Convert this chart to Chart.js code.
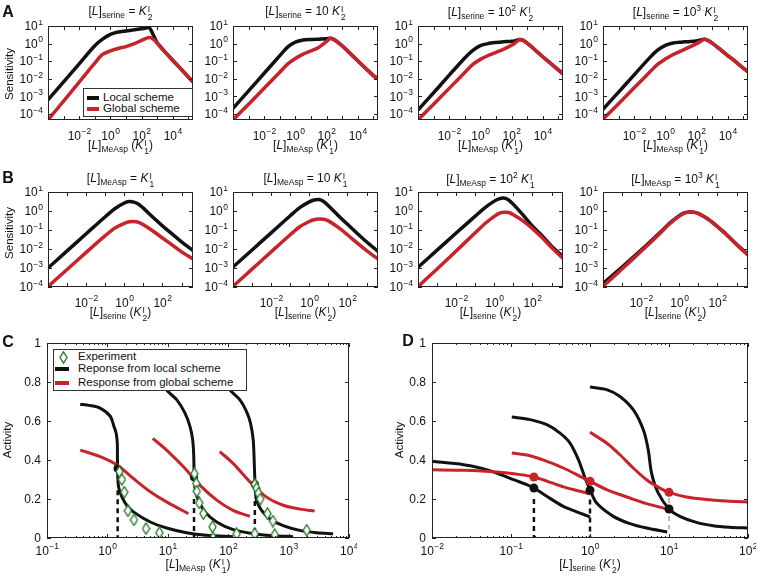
<!DOCTYPE html>
<html>
<head>
<meta charset="utf-8">
<script src="https://cdn.jsdelivr.net/npm/chart.js@4.4.1/dist/chart.umd.min.js"></script>
<style>
body{margin:0;background:#fff;}
#fig{position:relative;width:759px;height:578px;font-family:"Liberation Sans",Arial,sans-serif;color:#111;overflow:hidden;}
canvas{position:absolute;}
.t{position:absolute;white-space:nowrap;font-size:12px;line-height:1;transform:translate(-50%,-50%);}
.t sub{font-size:8.5px;vertical-align:-3px;}
.t sup{font-size:8.5px;vertical-align:5px;}
.st{display:inline-block;vertical-align:-5px;font-size:8.5px;line-height:8px;margin-left:1px;text-align:left;}
.st span{display:block;}
.box{position:absolute;background:#fff;border:1px solid #333;box-sizing:border-box;}
.sw{position:absolute;height:4px;}
.lt{position:absolute;white-space:nowrap;font-size:11.5px;line-height:1;transform:translateY(-50%);}
.L{position:absolute;font-weight:bold;font-size:16px;line-height:1;transform:translate(-50%,-50%);}
</style>
</head>
<body>
<div id="fig"></div>
<script>
// ---- data (log10 values for sensitivity axes and all x values) ----
// Row A: sensitivity vs [L]MeAsp
var aLogX = [-4,-3,-2,-1,-0.5,0,0.5,1,1.5,2,2.25,2.5,2.75,3,3.5,4,4.5,5,5.3];
var a1Local  = [-3.21,-2.18,-1.15,-0.12,0.25,0.52,0.66,0.72,0.78,0.84,0.88,0.9,0.5,0.05,-0.47,-0.95,-1.42,-1.9,-2.17];
var a1Global = [-4.35,-3.27,-2.19,-1.11,-0.62,-0.42,-0.28,-0.17,-0.02,0.18,0.28,0.34,0.25,0.03,-0.47,-0.95,-1.42,-1.9,-2.17];
var a2Local  = [-3.69,-2.69,-1.69,-0.69,-0.2,0.08,0.2,0.23,0.25,0.27,0.3,0.22,0.05,-0.12,-0.55,-0.98,-1.4,-1.82,-2.0];
var a2Global = [-4.35,-3.45,-2.54,-1.63,-1.17,-0.85,-0.6,-0.42,-0.22,0.12,0.3,0.22,0.05,-0.12,-0.55,-0.98,-1.4,-1.82,-2.0];
var a3Local  = [-3.78,-2.8,-1.8,-0.82,-0.4,-0.12,0.0,0.06,0.1,0.13,0.17,0.23,0.18,0.02,-0.35,-0.75,-1.12,-1.5,-1.73];
var a3Global = [-4.35,-3.45,-2.55,-1.65,-1.2,-0.9,-0.68,-0.5,-0.32,-0.1,0.05,0.22,0.18,0.02,-0.35,-0.75,-1.12,-1.5,-1.73];
var a4Local  = [-3.74,-2.76,-1.78,-0.8,-0.38,-0.1,0.03,0.08,0.11,0.15,0.2,0.24,0.17,0.03,-0.32,-0.68,-1.03,-1.4,-1.6];
var a4Global = [-4.31,-3.42,-2.52,-1.62,-1.18,-0.88,-0.62,-0.42,-0.22,0.0,0.12,0.24,0.17,0.03,-0.32,-0.68,-1.03,-1.4,-1.6];

// Row B: sensitivity vs [L]serine
var bLogX = [-4,-3,-2,-1,-0.5,0,0.25,0.5,0.75,1,1.5,2,2.5,3,3.6];
var b1Local  = [-3.0,-2.1,-1.2,-0.3,0.12,0.42,0.5,0.47,0.36,0.15,-0.33,-0.78,-1.2,-1.62,-2.08];
var b1Global = [-3.98,-3.08,-2.18,-1.3,-0.9,-0.65,-0.57,-0.55,-0.6,-0.72,-1.05,-1.42,-1.78,-2.15,-2.52];
var b2Local  = [-2.95,-2.05,-1.15,-0.25,0.18,0.48,0.58,0.6,0.5,0.28,-0.22,-0.7,-1.17,-1.62,-2.12];
var b2Global = [-3.96,-3.06,-2.15,-1.25,-0.83,-0.55,-0.46,-0.42,-0.43,-0.52,-0.85,-1.25,-1.68,-2.08,-2.53];
var b3Local  = [-2.96,-2.06,-1.16,-0.27,0.17,0.52,0.64,0.68,0.58,0.35,-0.2,-0.8,-1.3,-1.85,-2.39];
var b3Global = [-3.98,-3.05,-2.1,-1.15,-0.67,-0.28,-0.12,-0.07,-0.08,-0.2,-0.52,-0.93,-1.4,-1.92,-2.5];
var b4Local  = [-3.82,-2.95,-2.06,-1.12,-0.63,-0.24,-0.1,-0.05,-0.06,-0.13,-0.42,-0.82,-1.26,-1.75,-2.3];
var b4Global = [-3.96,-3.05,-2.12,-1.17,-0.67,-0.27,-0.12,-0.06,-0.07,-0.14,-0.43,-0.83,-1.27,-1.76,-2.32];

// Panel C: activity vs log10 [L]MeAsp
var cLocal1X = [-0.45,-0.3,-0.12,0.05,0.11,0.145,0.163,0.167,0.17,0.185,0.24,0.32,0.43,0.71,0.98,1.31,1.64,2.08];
var cLocal1Y = [0.686,0.68,0.666,0.623,0.571,0.537,0.49,0.4,0.33,0.262,0.211,0.168,0.134,0.082,0.051,0.027,0.014,0.007];
var cLocal2X = [0.82,0.9,0.98,1.15,1.285,1.368,1.412,1.428,1.434,1.44,1.456,1.505,1.616,1.808,2.084,2.414,2.744,3.075];
var cLocal2Y = [0.87,0.82,0.76,0.708,0.64,0.571,0.503,0.434,0.35,0.3,0.245,0.194,0.134,0.082,0.043,0.022,0.012,0.007];
var cLocal3X = [1.85,1.95,2.03,2.194,2.304,2.37,2.414,2.43,2.441,2.45,2.469,2.552,2.689,2.91,3.185,3.46,3.736];
var cLocal3Y = [0.88,0.82,0.76,0.708,0.648,0.588,0.503,0.4,0.3,0.24,0.194,0.142,0.099,0.063,0.039,0.027,0.022];
var cGlobal1X = [-0.45,-0.12,0.16,0.43,0.71,0.98,1.34];
var cGlobal1Y = [0.451,0.417,0.374,0.305,0.237,0.185,0.125];
var cGlobal2X = [0.75,0.98,1.26,1.53,1.81,2.08,2.36];
var cGlobal2Y = [0.511,0.451,0.365,0.271,0.194,0.142,0.111];
var cGlobal3X = [1.86,2.08,2.36,2.63,2.91,3.19,3.43];
var cGlobal3Y = [0.443,0.383,0.288,0.211,0.168,0.148,0.139];
var cExpX = [0.2,0.24,0.28,0.34,0.44,0.64,0.86,1.44,1.47,1.48,1.52,1.59,1.74,1.75,2.14,2.44,2.47,2.5,2.53,2.65,2.74,2.77,2.44,3.3];
var cExpY = [0.34,0.3,0.235,0.14,0.093,0.048,0.027,0.33,0.28,0.24,0.18,0.125,0.057,0.0,0.022,0.275,0.255,0.23,0.2,0.125,0.087,0.017,0.022,0.04];
var cDotX = [0.167,1.434,2.441];
var cDotY = [0.357,0.312,0.276];
var cDropX = [0.17,1.434,2.441];
var cDropTop = [0.245,0.2,0.19];

// Panel D: activity vs log10 [L]serine
var dLocal1X = [-2,-1.6,-1.39,-1.18,-0.97,-0.8,-0.71,-0.547,-0.337,-0.126,0];
var dLocal1Y = [0.393,0.376,0.359,0.333,0.299,0.274,0.256,0.214,0.162,0.128,0.108];
var dLocal2X = [-0.99,-0.758,-0.547,-0.379,-0.253,-0.147,-0.063,0,0.084,0.295,0.505,0.716,0.977];
var dLocal2Y = [0.621,0.607,0.581,0.538,0.487,0.402,0.308,0.248,0.179,0.111,0.074,0.051,0.031];
var dLocal3X = [0,0.21,0.379,0.547,0.674,0.737,0.779,0.863,1.0,1.137,1.347,1.558,1.768,2];
var dLocal3Y = [0.774,0.761,0.726,0.658,0.556,0.453,0.333,0.231,0.149,0.111,0.08,0.063,0.055,0.051];
var dGlobal1X = [-2,-1.6,-1.18,-0.884,-0.71,-0.547,-0.337,-0.126,0];
var dGlobal1Y = [0.35,0.347,0.338,0.325,0.313,0.292,0.262,0.24,0.226];
var dGlobal2X = [-0.99,-0.758,-0.547,-0.337,-0.126,0,0.21,0.505,0.716,0.977];
var dGlobal2Y = [0.436,0.422,0.393,0.359,0.316,0.291,0.248,0.205,0.176,0.149];
var dGlobal3X = [0,0.21,0.379,0.547,0.716,0.884,1.0,1.221,1.474,1.768,2];
var dGlobal3Y = [0.542,0.487,0.427,0.359,0.299,0.256,0.234,0.21,0.197,0.188,0.185];
var dDotX = [-0.71,0,1.0];
var dLocalDotY = [0.256,0.245,0.149];
var dGlobalDotY = [0.313,0.291,0.234];
var dDropX = [-0.71,0,1.0];
var dDropTop = [0.2,0.197,0.205];
var dDropBottom = [0,0,0.045];

// ---- drawing ----
var fig = document.getElementById('fig');
var BLACK = '#111', RED = '#c8232b', GREEN = '#2e7d32';
var FONT = '"Liberation Sans", Arial, sans-serif';
var PL = 44, PR = 8, PT = 6, PB = 26;

function txt(html, x, y, extra)
{
  var d = document.createElement('div');
  d.className = 't';
  d.innerHTML = html;
  d.style.left = x + 'px';
  d.style.top = y + 'px';
  if (extra) d.style.cssText += extra;
  fig.appendChild(d);
  return d;
}

function st(up, down)
{
  return '<span class="st"><span>' + up + '</span><span>' + down + '</span></span>';
}

function p10(v) { return Math.pow(10, v); }

function curve(lx, ly, color, w, logY)
{
  var pts = [];
  for (var i = 0; i < lx.length; i++)
  {
    pts.push({x: p10(lx[i]), y: logY ? p10(ly[i]) : ly[i]});
  }
  return {data: pts, showLine: true, borderColor: color, borderWidth: w, pointRadius: 0, tension: 0.3, fill: false};
}

function drops(xs, tops, bottoms, color, w)
{
  var out = [];
  for (var i = 0; i < xs.length; i++)
  {
    out.push({data: [{x: p10(xs[i]), y: tops[i]}, {x: p10(xs[i]), y: bottoms ? bottoms[i] : 0}],
      showLine: true, borderColor: color, borderWidth: w, borderDash: [5, 4], pointRadius: 0, tension: 0});
  }
  return out;
}

function dots(xs, ys, color, r)
{
  var pts = [];
  for (var i = 0; i < xs.length; i++) pts.push({x: p10(xs[i]), y: ys[i]});
  return {data: pts, showLine: false, pointRadius: r, backgroundColor: color, borderColor: color, borderWidth: 0};
}

// thin diamond used for the experiment markers
var diamond = document.createElement('canvas');
diamond.width = 9; diamond.height = 13;
(function () {
  var g = diamond.getContext('2d');
  g.beginPath();
  g.moveTo(4.5, 0.8); g.lineTo(8, 6.5); g.lineTo(4.5, 12.2); g.lineTo(1, 6.5); g.closePath();
  g.fillStyle = '#fff'; g.fill();
  g.strokeStyle = GREEN; g.lineWidth = 1.4; g.stroke();
})();

function powLabel(ctx, e, x, base, align)
{
  var es = e < 0 ? '\u2212' + (-e) : '' + e;
  ctx.font = '12px ' + FONT;
  var w1 = ctx.measureText('10').width;
  ctx.font = '8.5px ' + FONT;
  var w2 = ctx.measureText(es).width;
  var x0 = align === 'right' ? x - w1 - w2 - 0.5 : x - (w1 + w2) / 2;
  ctx.textAlign = 'left';
  ctx.textBaseline = 'alphabetic';
  ctx.font = '12px ' + FONT;
  ctx.fillText('10', x0, base);
  ctx.font = '8.5px ' + FONT;
  ctx.fillText(es, x0 + w1 + 0.5, base - 5.5);
}

function framePlugin(ax)
{
  return {
    id: 'frame',
    afterDraw: function (chart)
    {
      var ctx = chart.ctx, a = chart.chartArea, sx = chart.scales.x, sy = chart.scales.y;
      ctx.save();
      ctx.strokeStyle = '#222';
      ctx.lineWidth = 1;
      ctx.strokeRect(Math.round(a.left) + 0.5, Math.round(a.top) + 0.5, Math.round(a.right - a.left) - 1, Math.round(a.bottom - a.top) - 1);
      function tick(px, horiz, len)
      {
        ctx.beginPath();
        if (horiz)
        {
          px = Math.round(px) + 0.5;
          ctx.moveTo(px, a.bottom); ctx.lineTo(px, a.bottom - len);
          ctx.moveTo(px, a.top); ctx.lineTo(px, a.top + len);
        }
        else
        {
          px = Math.round(px) + 0.5;
          ctx.moveTo(a.left, px); ctx.lineTo(a.left + len, px);
          ctx.moveTo(a.right, px); ctx.lineTo(a.right - len, px);
        }
        ctx.stroke();
      }
      var i, k, e;
      for (i = 0; i < ax.xMajor.length; i++) tick(sx.getPixelForValue(p10(ax.xMajor[i])), true, 4);
      if (ax.xMinor)
      {
        for (e = ax.xMajor[0] - 1; e <= ax.xMajor[ax.xMajor.length - 1]; e++)
        {
          for (k = 2; k < 10; k++)
          {
            var v = k * p10(e);
            if (v > sx.min && v < sx.max) tick(sx.getPixelForValue(v), true, 2);
          }
        }
      }
      for (i = 0; i < ax.yMajor.length; i++)
      {
        tick(sy.getPixelForValue(ax.yLog ? p10(ax.yMajor[i]) : ax.yMajor[i]), false, 4);
      }
      ctx.fillStyle = '#111';
      for (i = 0; i < ax.xLab.length; i++)
      {
        powLabel(ctx, ax.xLab[i], sx.getPixelForValue(p10(ax.xLab[i])), a.bottom + ax.xOff, 'center');
      }
      for (i = 0; i < ax.yMajor.length; i++)
      {
        if (ax.yLog)
        {
          powLabel(ctx, ax.yMajor[i], a.left - 5, sy.getPixelForValue(p10(ax.yMajor[i])) + 4.3, 'right');
        }
        else
        {
          ctx.font = '12px ' + FONT;
          ctx.textAlign = 'right';
          ctx.textBaseline = 'alphabetic';
          ctx.fillText(ax.yText[i], a.left - 6, sy.getPixelForValue(ax.yMajor[i]) + 4.3);
        }
      }
      ctx.restore();
    }
  };
}

function panel(box, xr, yr, yLog, datasets, ax)
{
  var cv = document.createElement('canvas');
  var w = box[2] - box[0], h = box[3] - box[1];
  cv.width = w + PL + PR;
  cv.height = h + PT + PB;
  cv.style.left = (box[0] - PL) + 'px';
  cv.style.top = (box[1] - PT) + 'px';
  cv.style.width = cv.width + 'px';
  cv.style.height = cv.height + 'px';
  fig.appendChild(cv);
  ax.yLog = yLog;
  return new Chart(cv, {
    type: 'scatter',
    data: {datasets: datasets},
    options: {
      responsive: false,
      animation: false,
      devicePixelRatio: 1,
      layout: {padding: {left: PL, right: PR, top: PT, bottom: PB}},
      plugins: {legend: {display: false}, tooltip: {enabled: false}},
      scales: {
        x: {type: 'logarithmic', min: xr[0], max: xr[1], bounds: 'data', display: false},
        y: {type: yLog ? 'logarithmic' : 'linear', min: yr[0], max: yr[1], bounds: 'data', display: false}
      }
    },
    plugins: [framePlugin(ax)]
  });
}

var colsX = [48, 233, 418, 603];
var aLoc = [a1Local, a2Local, a3Local, a4Local];
var aGlo = [a1Global, a2Global, a3Global, a4Global];
var bLoc = [b1Local, b2Local, b3Local, b4Local];
var bGlo = [b1Global, b2Global, b3Global, b4Global];
var aTitles = ['', '10 ', '10<sup>2</sup> ', '10<sup>3</sup> '];

for (var c = 0; c < 4; c++)
{
  var x0 = colsX[c];
  panel([x0, 26, x0 + 145, 120], [1e-4, p10(5.3)], [p10(-4.35), 10], true,
    [curve(aLogX, aGlo[c], RED, 3.5, true), curve(aLogX, aLoc[c], BLACK, 3.5, true)],
    {xMajor: [-4,-3,-2,-1,0,1,2,3,4,5], xLab: [-2,0,2,4], yMajor: [-4,-3,-2,-1,0,1], xOff: 19.5});
  panel([x0, 192, x0 + 145, 287], [1e-4, p10(3.6)], [1e-4, 10], true,
    [curve(bLogX, bGlo[c], RED, 3.5, true), curve(bLogX, bLoc[c], BLACK, 3.5, true)],
    {xMajor: [-4,-3,-2,-1,0,1,2,3], xLab: [-2,0,2], yMajor: [-4,-3,-2,-1,0,1], xOff: 19.5});
  var mid = x0 + 72.5;
  txt('[<i>L</i>]<sub>serine</sub> = ' + aTitles[c] + '<i>K</i>' + st('I', '2'), mid, 13);
  txt('[<i>L</i>]<sub>MeAsp</sub> (<i>K</i>' + st('I', '1') + ')', mid, 147);
  txt('[<i>L</i>]<sub>MeAsp</sub> = ' + aTitles[c] + '<i>K</i>' + st('I', '1'), mid, 180);
  txt('[<i>L</i>]<sub>serine</sub> (<i>K</i>' + st('I', '2') + ')', mid, 314);
}

var linTicks = [0, 0.2, 0.4, 0.6, 0.8, 1];
var linText = ['0', '0.2', '0.4', '0.6', '0.8', '1'];

panel([47, 343, 349, 538], [0.1, 1e4], [0, 1], false,
  [{data: cExpX.map(function (v, i) { return {x: p10(v), y: cExpY[i]}; }), showLine: false, pointStyle: diamond, pointRadius: 5},
   dots(cDotX, cDotY, BLACK, 4),
   curve(cGlobal1X, cGlobal1Y, RED, 3, false), curve(cGlobal2X, cGlobal2Y, RED, 3, false), curve(cGlobal3X, cGlobal3Y, RED, 3, false),
   curve(cLocal1X, cLocal1Y, BLACK, 3, false), curve(cLocal2X, cLocal2Y, BLACK, 3, false), curve(cLocal3X, cLocal3Y, BLACK, 3, false)]
   .concat(drops(cDropX, cDropTop, null, BLACK, 2.5)),
  {xMajor: [-1,0,1,2,3,4], xMinor: true, xLab: [-1,0,1,2,3,4], yMajor: linTicks, yText: linText, xOff: 16.5});

panel([432, 343, 748, 538], [0.01, 100], [0, 1], false,
  [dots(dDotX, dGlobalDotY, RED, 4.5), dots(dDotX, dLocalDotY, BLACK, 4.5),
   curve(dGlobal1X, dGlobal1Y, RED, 3, false), curve(dGlobal2X, dGlobal2Y, RED, 3, false), curve(dGlobal3X, dGlobal3Y, RED, 3, false),
   curve(dLocal1X, dLocal1Y, BLACK, 3, false), curve(dLocal2X, dLocal2Y, BLACK, 3, false), curve(dLocal3X, dLocal3Y, BLACK, 3, false)]
   .concat(drops(dDropX.slice(0, 2), dDropTop.slice(0, 2), dDropBottom.slice(0, 2), BLACK, 2.5))
   .concat(drops(dDropX.slice(2), dDropTop.slice(2), dDropBottom.slice(2), '#777', 1)),
  {xMajor: [-2,-1,0,1,2], xMinor: true, xLab: [-2,-1,0,1,2], yMajor: linTicks, yText: linText, xOff: 16.5});

// axis titles and panel letters
txt('Sensitivity', 10, 74, 'font-size:11.5px;transform:translate(-50%,-50%) rotate(-90deg);');
txt('Sensitivity', 10, 233, 'font-size:11.5px;transform:translate(-50%,-50%) rotate(-90deg);');
txt('Activity', 8, 440, 'font-size:11.5px;transform:translate(-50%,-50%) rotate(-90deg);');
txt('Activity', 400, 440, 'font-size:11.5px;transform:translate(-50%,-50%) rotate(-90deg);');
txt('[<i>L</i>]<sub>MeAsp</sub> (<i>K</i>' + st('I', '1') + ')', 198, 566);
txt('[<i>L</i>]<sub>serine</sub> (<i>K</i>' + st('I', '2') + ')', 590, 566);

function letter(s, x, y)
{
  var d = document.createElement('div');
  d.className = 'L'; d.textContent = s;
  d.style.left = x + 'px'; d.style.top = y + 'px';
  fig.appendChild(d);
}
letter('A', 8, 12);
letter('B', 8, 178);
letter('C', 8, 342);
letter('D', 408, 341);

// legends
function legBox(x, y, w, h)
{
  var d = document.createElement('div');
  d.className = 'box';
  d.style.left = x + 'px'; d.style.top = y + 'px'; d.style.width = w + 'px'; d.style.height = h + 'px';
  fig.appendChild(d);
}
function legLine(x, y, w, color)
{
  var d = document.createElement('div');
  d.className = 'sw';
  d.style.left = x + 'px'; d.style.top = (y - 2) + 'px'; d.style.width = w + 'px'; d.style.background = color;
  fig.appendChild(d);
}
function legText(s, x, y)
{
  var d = document.createElement('div');
  d.className = 'lt';
  d.textContent = s;
  d.style.left = x + 'px'; d.style.top = y + 'px';
  fig.appendChild(d);
}

legBox(83, 88, 110, 29);
legLine(87, 98, 12, BLACK);
legText('Local scheme', 103, 98);
legLine(87, 109, 12, RED);
legText('Global scheme', 103, 109);

legBox(53, 349, 194, 42);
var dm = document.createElement('img');
dm.src = diamond.toDataURL();
dm.style.cssText = 'position:absolute;left:' + (63 - 4.5) + 'px;top:' + (357 - 6.5) + 'px;';
fig.appendChild(dm);
legText('Experiment', 78, 357);
legLine(55, 369, 14, BLACK);
legText('Reponse from local scheme', 78, 369);
legLine(55, 383, 14, RED);
legText('Response from global scheme', 78, 383);
</script>
</body>
</html>
